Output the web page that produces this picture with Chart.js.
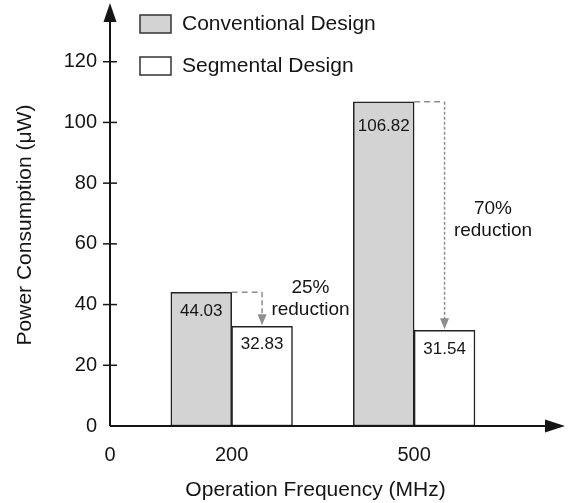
<!DOCTYPE html>
<html>
<head>
<meta charset="utf-8">
<script src="https://cdn.jsdelivr.net/npm/chart.js@4.4.1/dist/chart.umd.min.js"></script>
<style>
  html, body { margin: 0; padding: 0; background: #fff; }
</style>
</head>
<body>
<canvas id="chart" width="579" height="503"></canvas>
<script>
// data
const frequencies = [200, 500];
const conventionalPower = [44.03, 106.82];
const segmentalPower = [32.83, 31.54];
const reductionLabels = ['25%', '70%'];
const seriesNames = ['Conventional Design', 'Segmental Design'];
const yTickValues = [0, 20, 40, 60, 80, 100, 120];
const xTickValues = [0, 200, 500];
const xTitle = 'Operation Frequency (MHz)';
const yTitle = 'Power Consumption (μW)';

// each bar covers 100 MHz: conventional left of the tick, segmental right of it
const barSpan = 100;

// style / placement
const FONT = '"Liberation Sans", Arial, Helvetica, sans-serif';
const convFill = '#d3d3d3';
const segFill = '#ffffff';
const ink = '#151515';
const arrowGrey = '#8e8e8e';
const valueOffsets = [[18.5, 25], [17.5, 19.5]]; // px below bar tops [conv, seg]
const reductionTextAt = [45.7, 71.5];           // y value of first text line

Chart.defaults.font.family = FONT;
Chart.defaults.color = ink;

const decorations = {
    id: 'decorations',
    afterDatasetsDraw(chart) {
        const { ctx, chartArea, scales: { x, y } } = chart;
        const convBars = chart.getDatasetMeta(0).data;
        const segBars = chart.getDatasetMeta(1).data;
        ctx.save();

        // values inside bars
        ctx.font = '17px ' + FONT;
        ctx.fillStyle = ink;
        ctx.textAlign = 'center';
        ctx.textBaseline = 'middle';
        convBars.forEach((b, i) => ctx.fillText(conventionalPower[i].toFixed(2), b.x, b.y + valueOffsets[0][i]));
        segBars.forEach((b, i) => ctx.fillText(segmentalPower[i].toFixed(2), b.x, b.y + valueOffsets[1][i]));

        // reduction arrows
        frequencies.forEach((f, i) => {
            const c = convBars[i], s = segBars[i];
            ctx.strokeStyle = arrowGrey;
            ctx.fillStyle = arrowGrey;
            ctx.lineWidth = 1.5;
            ctx.setLineDash([6, 4]);
            ctx.beginPath();
            ctx.moveTo(c.x + c.width / 2, c.y);
            ctx.lineTo(s.x, c.y);
            ctx.stroke();
            ctx.setLineDash(i === 0 ? [5, 3] : [3, 2]);
            ctx.beginPath();
            ctx.moveTo(s.x, c.y);
            ctx.lineTo(s.x, s.y - 11);
            ctx.stroke();
            ctx.setLineDash([]);
            ctx.beginPath();
            ctx.moveTo(s.x - 4.5, s.y - 12);
            ctx.lineTo(s.x + 4.5, s.y - 12);
            ctx.lineTo(s.x, s.y - 1);
            ctx.closePath();
            ctx.fill();

            const tx = s.x + s.width / 2 + 18;
            const ty = y.getPixelForValue(reductionTextAt[i]);
            ctx.fillStyle = ink;
            ctx.font = '19px ' + FONT;
            ctx.fillText(reductionLabels[i], tx, ty);
            ctx.fillText('reduction', tx, ty + 22);
        });

        // axes with arrows
        const x0 = x.getPixelForValue(0), y0 = y.getPixelForValue(0);
        ctx.strokeStyle = ink;
        ctx.fillStyle = ink;
        ctx.lineWidth = 2;
        ctx.beginPath();
        ctx.moveTo(x0, y0);
        ctx.lineTo(x0, chartArea.top + 18);
        ctx.moveTo(x0, y0);
        ctx.lineTo(chartArea.right - 18, y0);
        ctx.stroke();
        ctx.beginPath();
        ctx.moveTo(x0, chartArea.top + 2);
        ctx.lineTo(x0 - 6.5, chartArea.top + 21);
        ctx.lineTo(x0 + 6.5, chartArea.top + 21);
        ctx.closePath();
        ctx.fill();
        ctx.beginPath();
        ctx.moveTo(chartArea.right, y0);
        ctx.lineTo(chartArea.right - 20, y0 - 6.5);
        ctx.lineTo(chartArea.right - 20, y0 + 6.5);
        ctx.closePath();
        ctx.fill();

        // y tick marks crossing the axis
        ctx.lineWidth = 1.5;
        yTickValues.forEach(v => {
            if (v === 0) return;
            const py = y.getPixelForValue(v);
            ctx.beginPath();
            ctx.moveTo(x0 - 7, py);
            ctx.lineTo(x0 + 7, py);
            ctx.stroke();
        });

        // axis titles
        ctx.font = '21px ' + FONT;
        ctx.fillStyle = ink;
        ctx.fillText(xTitle, 315.5, 490);
        ctx.save();
        ctx.translate(25, 225);
        ctx.rotate(-Math.PI / 2);
        ctx.fillText(yTitle, 0, 0);
        ctx.restore();

        // legend
        const fills = [convFill, segFill];
        ctx.textAlign = 'left';
        seriesNames.forEach((name, i) => {
            const top = 15 + i * 42;
            ctx.fillStyle = fills[i];
            ctx.fillRect(140, top, 31, 18);
            ctx.strokeStyle = '#333';
            ctx.lineWidth = 1.5;
            ctx.strokeRect(140, top, 31, 18);
            ctx.fillStyle = ink;
            ctx.fillText(name, 182, top + 9.5);
        });

        ctx.restore();
    }
};

const barStyle = {
    borderColor: '#222',
    borderWidth: 1.5,
    borderSkipped: false,
    grouped: false,
    barPercentage: 1,
    categoryPercentage: 1
};

new Chart(document.getElementById('chart'), {
    type: 'bar',
    data: {
        datasets: [
            { label: seriesNames[0], data: frequencies.map((f, i) => ({ x: f - barSpan / 2, y: conventionalPower[i] })), backgroundColor: convFill, ...barStyle },
            { label: seriesNames[1], data: frequencies.map((f, i) => ({ x: f + barSpan / 2, y: segmentalPower[i] })), backgroundColor: segFill, ...barStyle }
        ]
    },
    options: {
        responsive: false,
        animation: false,
        devicePixelRatio: 1,
        layout: { padding: { top: 1, right: 14, bottom: 0, left: 0 } },
        plugins: { legend: { display: false }, tooltip: { enabled: false } },
        scales: {
            x: {
                type: 'linear', min: 0, max: 748, offset: false,
                grid: { display: false, drawTicks: false, offset: false },
                border: { display: false },
                ticks: { padding: 17, font: { size: 20 }, color: ink },
                afterBuildTicks: s => { s.ticks = xTickValues.map(v => ({ value: v })); },
                afterFit: s => { s.height = 77; s.paddingLeft = 0; s.paddingRight = 0; }
            },
            y: {
                min: 0, max: 140,
                grid: { display: false, drawTicks: false },
                border: { display: false },
                ticks: { padding: 13, font: { size: 20 }, color: ink },
                afterBuildTicks: s => { s.ticks = yTickValues.map(v => ({ value: v })); },
                afterFit: s => { s.width = 110; s.paddingTop = 0; s.paddingBottom = 0; }
            }
        }
    },
    plugins: [decorations]
});
</script>
</body>
</html>
